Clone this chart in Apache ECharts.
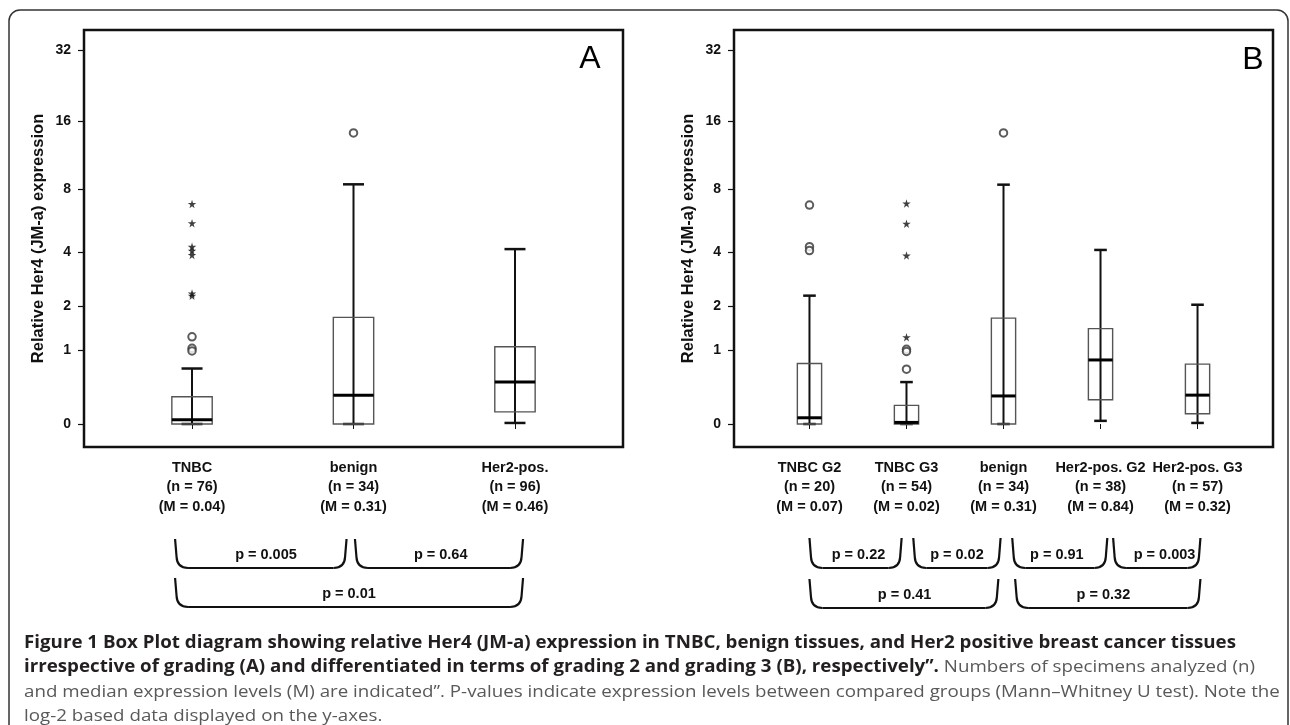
<!DOCTYPE html>
<html><head><meta charset="utf-8">
<script src="https://cdn.jsdelivr.net/npm/echarts@6/dist/echarts.min.js"></script>
<style>html,body{margin:0;padding:0;background:#fff}#c{width:1290px;height:725px}</style>
</head><body><div id="c"></div>
<script>
// ---------------- data ----------------
const yTickValues = [0, 1, 2, 4, 8, 16, 32];

const catsA = ['TNBC', 'benign', 'Her2-pos.'];
const nA = [76, 34, 96];
const medianLabelA = ['0.04', '0.31', '0.46'];
// [lower whisker, Q1, median, Q3, upper whisker] (relative expression)
const boxA = [
  [0, 0, 0.04, 0.29, 0.68],
  [0, 0, 0.31, 1.71, 8.4],
  [0.01, 0.12, 0.48, 1.06, 4.13]
];
// outliers: [category number, value]
const circlesA = [[1, 1.26], [1, 1.03], [1, 0.98], [2, 14.2]];
const starsA = [[1, 6.82], [1, 5.53], [1, 4.24], [1, 4.05], [1, 3.86], [1, 2.39], [1, 2.32]];
const pLabelsA = ['p = 0.005', 'p = 0.64', 'p = 0.01'];

const catsB = ['TNBC G2', 'TNBC G3', 'benign', 'Her2-pos. G2', 'Her2-pos. G3'];
const nB = [20, 54, 34, 38, 57];
const medianLabelB = ['0.07', '0.02', '0.31', '0.84', '0.32'];
const boxB = [
  [0, 0, 0.06, 0.76, 2.32],
  [0, 0, 0.015, 0.19, 0.48],
  [0, 0, 0.30, 1.69, 8.37],
  [0.03, 0.255, 0.82, 1.44, 4.09],
  [0.01, 0.10, 0.31, 0.75, 2.05]
];
const circlesB = [[1, 6.74], [1, 4.25], [1, 4.06], [2, 0.67], [2, 1.01], [2, 0.97], [3, 14.2]];
const starsB = [[2, 6.86], [2, 5.5], [2, 3.83], [2, 1.25]];
const pLabelsB = ['p = 0.22', 'p = 0.02', 'p = 0.91', 'p = 0.003', 'p = 0.41', 'p = 0.32'];

const captionLines = [
  [['b', 'Figure 1 Box Plot diagram showing relative Her4 (JM-a) expression in TNBC, benign tissues, and Her2 positive breast cancer tissues']],
  [['b', 'irrespective of grading (A) and differentiated in terms of grading 2 and grading 3 (B), respectively\u201d.'], ['n', ' Numbers of specimens analyzed (n)']],
  [['n', 'and median expression levels (M) are indicated\u201d. P-values indicate expression levels between compared groups (Mann\u2013Whitney U test). Note the']],
  [['n', 'log-2 based data displayed on the y-axes.']]
];

// ---------------- chart ----------------
const T = v => Math.log2(1 + v);     // log-2 based axis: log2(x + 1)
const FONT = '"Liberation Sans", Arial, sans-serif';
const INK = '#111';

const chart = echarts.init(document.getElementById('c'), null, {renderer: 'canvas'});

function catLabels(cats, ns, ms) {
  return cats.map((c, i) => c + '\n(n = ' + ns[i] + ')\n(M = ' + ms[i] + ')');
}
function xAxisDef(idx, cats, ns, ms, min, max) {
  const labels = catLabels(cats, ns, ms);
  const vals = cats.map((c, i) => i + 1);
  return {
    type: 'value', gridIndex: idx, min: min, max: max,
    splitLine: {show: false}, axisLine: {show: false},
    axisTick: {show: true, customValues: vals, length: 5, lineStyle: {color: INK, width: 1}},
    axisLabel: {customValues: vals, formatter: v => labels[Math.round(v) - 1],
      color: INK, fontFamily: FONT, fontWeight: 'bold', fontSize: 14.5, lineHeight: 19.5, margin: 11}
  };
}
function yAxisDef(idx) {
  const vals = yTickValues.map(T);
  return {
    type: 'value', gridIndex: idx, min: -0.31, max: 5.314,
    name: 'Relative Her4 (JM-a) expression', nameLocation: 'middle', nameGap: 37,
    nameTextStyle: {color: INK, fontFamily: FONT, fontWeight: 'bold', fontSize: 16.5},
    splitLine: {show: false}, axisLine: {show: false},
    axisTick: {show: true, customValues: vals, length: 6, lineStyle: {color: INK, width: 1.2}},
    axisLabel: {customValues: vals, formatter: v => String(Math.round(Math.pow(2, v) - 1)),
      color: INK, fontFamily: FONT, fontWeight: 'bold', fontSize: 14, margin: 13}
  };
}
function boxSeries(idx, data) {
  return {
    type: 'custom', xAxisIndex: idx, yAxisIndex: idx, silent: true,
    data: data.map((b, i) => [i + 1].concat(b.map(T))),
    encode: {x: 0, y: [1, 2, 3, 4, 5]},
    renderItem: function (params, api) {
      const x = api.value(0);
      const unit = api.size([1, 0])[0];
      const bw = unit * 0.25, cw = unit * 0.13;
      const lo = api.coord([x, api.value(1)]);
      const q1 = api.coord([x, api.value(2)]);
      const md = api.coord([x, api.value(3)]);
      const q3 = api.coord([x, api.value(4)]);
      const hi = api.coord([x, api.value(5)]);
      const cx = lo[0];
      return {type: 'group', children: [
        {type: 'line', shape: {x1: cx, y1: lo[1], x2: cx, y2: hi[1]}, style: {stroke: INK, lineWidth: 2}},
        {type: 'line', shape: {x1: cx - cw / 2, y1: hi[1], x2: cx + cw / 2, y2: hi[1]}, style: {stroke: INK, lineWidth: 2.5}},
        {type: 'line', shape: {x1: cx - cw / 2, y1: lo[1], x2: cx + cw / 2, y2: lo[1]}, style: {stroke: INK, lineWidth: 2.5}},
        {type: 'rect', shape: {x: cx - bw / 2, y: q3[1], width: bw, height: q1[1] - q3[1]},
          style: {fill: 'none', stroke: '#555', lineWidth: 1.4}},
        {type: 'line', shape: {x1: cx - bw / 2, y1: md[1], x2: cx + bw / 2, y2: md[1]}, style: {stroke: '#000', lineWidth: 3}}
      ]};
    }
  };
}
const STAR = 'path://M50,0 L61,35 L98,35 L68,57 L79,91 L50,70 L21,91 L32,57 L2,35 L39,35 Z';
function outlierSeries(idx, circles, stars) {
  return [
    {type: 'scatter', xAxisIndex: idx, yAxisIndex: idx, silent: true,
      data: circles.map(d => [d[0], T(d[1])]), symbol: 'emptyCircle', symbolSize: 7.5,
      itemStyle: {color: '#333', borderColor: '#333', borderWidth: 1.3}},
    {type: 'scatter', xAxisIndex: idx, yAxisIndex: idx, silent: true,
      data: stars.map(d => [d[0], T(d[1])]), symbol: STAR, symbolSize: 8.5,
      itemStyle: {color: '#111'}}
  ];
}

const option = {
  animation: false,
  backgroundColor: '#fff',
  grid: [
    {left: 84, top: 30, width: 539, height: 417, show: true, borderColor: INK, borderWidth: 2.5, backgroundColor: 'transparent'},
    {left: 734, top: 30, width: 539, height: 417, show: true, borderColor: INK, borderWidth: 2.5, backgroundColor: 'transparent'}
  ],
  xAxis: [
    xAxisDef(0, catsA, nA, medianLabelA, 0.331, 3.669),
    xAxisDef(1, catsB, nB, medianLabelB, 0.222, 5.778)
  ],
  yAxis: [yAxisDef(0), yAxisDef(1)],
  series: [
    boxSeries(0, boxA), ...outlierSeries(0, circlesA, starsA),
    boxSeries(1, boxB), ...outlierSeries(1, circlesB, starsB)
  ]
};
chart.setOption(option);

// ---------------- annotations (brackets, panel letters, caption) ----------------
function px(idx, v) { return chart.convertToPixel({xAxisIndex: idx}, v); }
const els = [];
const BR = {stroke: INK, lineWidth: 2.2, fill: 'none'};
// a, b: bracket ends and lx: label centre, all in x-axis units
function addBracket(idx, a, b, lx, top, bot, label) {
  const x1 = px(idx, a), x2 = px(idx, b), r = 11;
  els.push({type: 'line', silent: true, shape: {x1: x1, y1: top, x2: x1 + 1.5, y2: bot - r}, style: BR});
  els.push({type: 'bezierCurve', silent: true, shape: {x1: x1 + 1.5, y1: bot - r, cpx1: x1 + 2, cpy1: bot, x2: x1 + 2 + r, y2: bot}, style: BR});
  els.push({type: 'line', silent: true, shape: {x1: x1 + 2 + r, y1: bot, x2: x2 - 2 - r, y2: bot}, style: BR});
  els.push({type: 'bezierCurve', silent: true, shape: {x1: x2 - 2 - r, y1: bot, cpx1: x2 - 2, cpy1: bot, x2: x2 - 1.5, y2: bot - r}, style: BR});
  els.push({type: 'line', silent: true, shape: {x1: x2 - 1.5, y1: bot - r, x2: x2, y2: top}, style: BR});
  els.push({type: 'text', silent: true, x: px(idx, lx), y: bot - 13,
    style: {text: label, fill: INK, font: 'bold 14.5px ' + FONT, align: 'center', verticalAlign: 'middle'}});
}
// panel A brackets
addBracket(0, 0.895, 1.957, 1.458, 539, 568, pLabelsA[0]);
addBracket(0, 2.009, 3.05, 2.54, 539, 568, pLabelsA[1]);
addBracket(0, 0.895, 3.05, 1.972, 578, 607, pLabelsA[2]);
// panel B brackets
addBracket(1, 1.00, 1.95, 1.505, 538, 568, pLabelsB[0]);
addBracket(1, 2.07, 2.97, 2.52, 538, 568, pLabelsB[1]);
addBracket(1, 3.09, 4.07, 3.55, 538, 568, pLabelsB[2]);
addBracket(1, 4.13, 5.03, 4.66, 538, 568, pLabelsB[3]);
addBracket(1, 1.00, 2.947, 1.98, 579, 608, pLabelsB[4]);
addBracket(1, 3.12, 5.03, 4.03, 579, 608, pLabelsB[5]);

// panel letters
els.push({type: 'text', silent: true, x: 590, y: 59, style: {text: 'A', fill: '#000', font: '32px ' + FONT, align: 'center', verticalAlign: 'middle'}});
els.push({type: 'text', silent: true, x: 1253, y: 60, style: {text: 'B', fill: '#000', font: '32px ' + FONT, align: 'center', verticalAlign: 'middle'}});

// outer rounded frame
els.push({type: 'rect', silent: true, shape: {x: 9, y: 10, width: 1279, height: 780, r: 11},
  style: {fill: 'none', stroke: '#333', lineWidth: 1.5}});

// caption: condensed by horizontal scaling so that the first line spans the measured width
const CAP_FONT = '"Open Sans", "Noto Sans", sans-serif';
const capSize = 17;
const cv = document.createElement('canvas').getContext('2d');
cv.font = 'bold ' + capSize + 'px ' + CAP_FONT;
const w1 = cv.measureText(captionLines[0][0][1]).width;
const capScale = 1212 / w1;
const capY = [643, 667, 692, 716];
captionLines.forEach((parts, i) => {
  els.push({type: 'text', silent: true, x: 24, y: capY[i], scaleX: capScale, style: {
    text: parts.map(p => '{' + p[0] + '|' + p[1] + '}').join(''),
    verticalAlign: 'middle', align: 'left',
    rich: {
      b: {fontFamily: CAP_FONT, fontWeight: 'bold', fontSize: capSize, fill: '#231f20'},
      n: {fontFamily: CAP_FONT, fontWeight: 'normal', fontSize: capSize, fill: '#58595b'}
    }
  }});
});
chart.setOption({graphic: {elements: els}});
</script></body></html>
